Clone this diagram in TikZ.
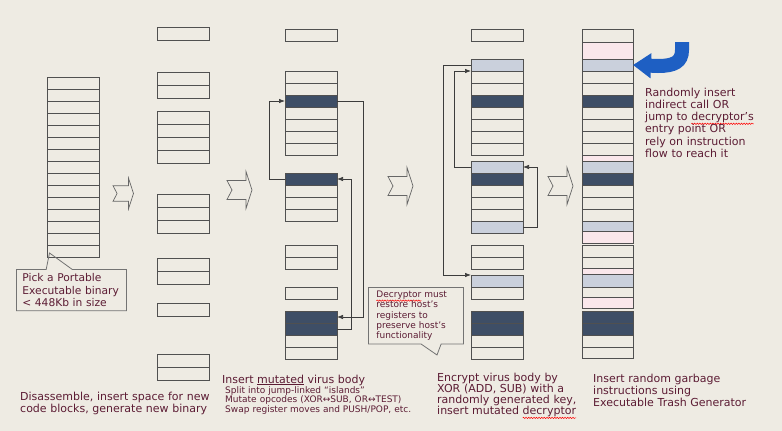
\documentclass[tikz,border=0pt]{standalone}
\usepackage{fontspec}
\setmainfont{DejaVu Sans}
\usetikzlibrary{calc, positioning, arrows.meta, shapes.callouts, decorations.pathmorphing}

\definecolor{bgcol}{RGB}{238,235,227}
\definecolor{rowline}{RGB}{80,80,80}
\definecolor{rowdark}{RGB}{62,78,102}
\definecolor{rowlight}{RGB}{202,208,220}
\definecolor{rowpink}{RGB}{250,231,235}
\definecolor{txtcol}{RGB}{92,28,52}
\definecolor{jumpcol}{RGB}{60,60,60}
\definecolor{bluearr}{RGB}{30,95,195}

% red spell-check wave and plain underline
\newlength{\marklen}
\newcommand{\redwave}[1]{\settowidth{\marklen}{#1}\rlap{#1}\tikz[baseline=0pt]{\useasboundingbox (0pt,0pt) rectangle (\marklen,0pt);
    \draw[red, line width=0.5pt, decorate, decoration={snake, amplitude=0.7pt, segment length=2.6pt}] (0pt,-3.2pt) -- (\marklen,-3.2pt);}}
\newcommand{\uline}[1]{\settowidth{\marklen}{#1}\rlap{#1}\tikz[baseline=0pt]{\useasboundingbox (0pt,0pt) rectangle (\marklen,0pt);
    \draw[txtcol, line width=0.6pt] (0pt,-1.6pt) -- (\marklen,-1.6pt);}}

\begin{document}
\begin{tikzpicture}[x=1pt, y=-1pt,
    row/.style={rectangle, draw=rowline, line width=0.8pt, minimum width=52pt, minimum height=12pt, inner sep=0pt, outer sep=0pt},
    wt/.style={row},
    dk/.style={row, fill=rowdark},
    lt/.style={row, fill=rowlight},
    pk/.style={row, fill=rowpink},
    jump/.style={draw=jumpcol, line width=0.7pt, -{Latex[length=6pt, width=4.5pt]}},
    note/.style={text=txtcol, inner sep=0pt, anchor=base west, align=left},
    bubble/.style={rectangle callout, draw=gray!90!black, line width=0.8pt, text=txtcol, align=left, anchor=north west},
    steparrow/.pic={\draw[draw=gray!80!black, line width=0.7pt, fill=bgcol] (0,-9.5) -- (19,-9.5) -- (19,-18.5) -- (25,0) -- (19,18.5) -- (19,9.5) -- (0,9.5) -- (5,0) -- cycle;}]

    \fill[bgcol] (0,0) rectangle (782,431);
    \useasboundingbox (0,0) rectangle (782,431);

    % original binary
    \foreach \i in {0,...,14}
        \node[wt] (c1r\i) at (73.5, 83+12*\i) {};

    % space inserted
    \foreach \t in {27,72,85,111,124,137,150,194,207,220,258,271,303,354,367}
        \node[wt, minimum height=13pt] (c2r\t) at (183, \t+6.5) {};

    % mutated virus body
    \foreach \t/\s in {29/wt, 71/wt, 83/wt, 95/dk, 107/wt, 119/wt, 131/wt, 143/wt, 173/dk, 185/wt, 197/wt, 209/wt, 245/wt, 257/wt, 287/wt, 311/dk, 323/dk, 335/wt, 347/wt}
        \node[\s] (c3r\t) at (311, \t+6) {};

    % encrypted body + decryptor
    \foreach \t/\s in {29/wt, 59/lt, 71/wt, 83/wt, 95/dk, 107/wt, 119/wt, 131/wt, 143/wt, 161/lt, 173/dk, 185/wt, 197/wt, 209/wt, 221/lt, 245/wt, 257/wt, 275/lt, 287/wt, 311/dk, 323/dk, 335/wt, 347/wt}
        \node[\s] (c4r\t) at (497, \t+6) {};

    % garbage inserted
    \foreach \t/\b/\s in {29/42/wt, 42/59/pk, 59/71/lt, 71/83/wt, 83/95/wt, 95/107/dk, 107/119/wt, 119/131/wt, 131/143/wt, 143/155/wt, 155/161/pk, 161/173/lt, 173/185/dk, 185/197/wt, 197/209/wt, 209/221/wt, 221/231/lt, 231/243/pk, 245/257/wt, 257/268/wt, 268/274/pk, 274/287/lt, 287/297/wt, 297/308/pk, 311/323/dk, 323/335/dk, 335/347/wt, 347/358/wt}{
        \pgfmathsetmacro{\h}{\b-\t}
        \node[\s, minimum width=51pt, minimum height=\h pt] (c5r\t) at (607.5, {(\t+\b)/2}) {};
    }

    % step arrows
    \pic[scale=0.82] at (113,193.5) {steparrow};
    \pic at (227,190) {steparrow};
    \pic at (388,186) {steparrow};
    \pic at (548,186) {steparrow};

    % jumps between islands
    \coordinate (jr1) at (363,0);
    \coordinate (jr2) at (351,0);
    \coordinate (jl1) at (269,0);
    \draw[jump] (c3r95.east) -- (c3r95.east -| jr1) |- (c3r311.east);
    \draw[jump] (c3r323.east) -- (c3r323.east -| jr2) |- (c3r173.east);
    \draw[jump] (c3r173.west) -- (c3r173.west -| jl1) |- (c3r95.west);

    \coordinate (kl1) at (443,0);
    \coordinate (kl2) at (454,0);
    \coordinate (kr1) at (537,0);
    \draw[jump] (c4r59.west) -- (c4r59.west -| kl1) |- (c4r275.north west);
    \draw[jump] (c4r161.west) -- (c4r161.west -| kl2) |- (c4r59.south west);
    \draw[jump] (c4r221.east) -- (c4r221.east -| kr1) |- (c4r161.east);

    % entry point arrow
    \coordinate (bendtop) at (682,42);
    \draw[line width=14pt, bluearr, -{Triangle[length=18pt, width=24pt]}] (bendtop) -- (682,50) .. controls (682,62) and (674,66) .. (658,66) -- (c5r59.east);

    % callouts
    \node[bubble, font=\fontsize{10.7}{12.5}\selectfont, text width=98pt, inner xsep=6pt, inner ysep=4pt,
          callout absolute pointer={($(c1r14.south west)+(2,-4)$)}, callout pointer width=26pt] (pickbox) at (16,269)
          {Pick a Portable\\Executable binary\\< 448Kb in size};
    \coordinate (restoretip) at (437,355);
    \node[bubble, font=\fontsize{9}{10.3}\selectfont, text width=79pt, inner xsep=8pt, inner ysep=3.5pt,
          callout absolute pointer={(restoretip)}, callout pointer width=20pt] (restorebox) at (368,287)
          {\redwave{Decryptor} must\\restore host’s\\registers to\\preserve host’s\\functionality};

    % captions
    \node[note, font=\fontsize{11}{12.3}\selectfont, text width=200pt] (randtxt) at (645,96)
        {Randomly insert\\indirect call OR\\jump to \redwave{decryptor’s}\\entry point OR\\rely on instruction\\flow to reach it};
    \node[note, font=\fontsize{11}{12}\selectfont, text width=200pt] (disasm) at (20,400)
        {Disassemble, insert space for new\\code blocks, generate new binary};
    \node[note, font=\fontsize{11}{12}\selectfont] (mutate) at (222,383) {Insert \uline{mutated} virus body};
    \node[note, font=\fontsize{9}{8.7}\selectfont, text width=220pt] (mutnotes) at (225,393)
        {Split into jump-linked “islands”\\Mutate opcodes (XOR↔SUB, OR↔TEST)\\Swap register moves and PUSH/POP, etc.};
    \node[note, font=\fontsize{11}{10.4}\selectfont, text width=160pt] (encrypt) at (437,381)
        {Encrypt virus body by\\XOR (ADD, SUB) with a\\randomly generated key,\\insert mutated \redwave{decryptor}};
    \node[note, font=\fontsize{11}{12.3}\selectfont, text width=180pt] (garbage) at (593,382)
        {Insert random garbage\\instructions using\\Executable Trash Generator};

\end{tikzpicture}
\end{document}
